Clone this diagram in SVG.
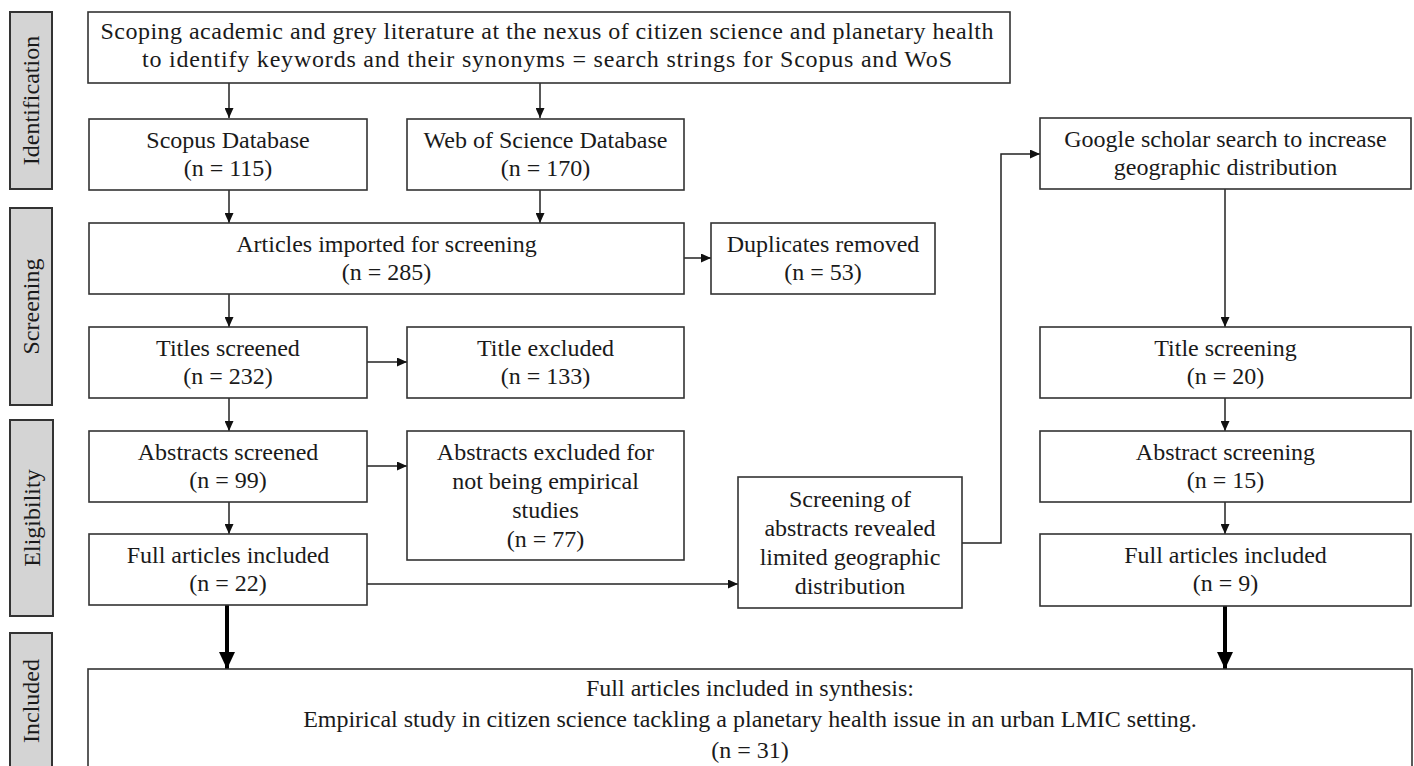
<svg xmlns="http://www.w3.org/2000/svg" width="1414" height="766" viewBox="0 0 1414 766">
<defs>
<style>
.box{fill:#fff;stroke:#333;stroke-width:1.6}
.side{fill:#d4d4d4;stroke:#333;stroke-width:2}
text{font-family:"Liberation Serif","Times New Roman",serif;font-size:24px;fill:#1a1a1a;text-anchor:middle}
.c{stroke:#222;stroke-width:1.5;fill:none}
.ct{stroke:#000;stroke-width:4;fill:none}
</style>
<marker id="ah" markerWidth="10" markerHeight="9" refX="10" refY="4.5" orient="auto" markerUnits="userSpaceOnUse"><path d="M0,0 L10,4.5 L0,9 z" fill="#111"/></marker>
<marker id="ahb" markerWidth="17" markerHeight="16" refX="17" refY="8" orient="auto" markerUnits="userSpaceOnUse"><path d="M0,0 L17,8 L0,16 z" fill="#000"/></marker>
</defs>
<rect width="1414" height="766" fill="#fff"/>

<g id="phases">
<g id="phase-identification"><rect class="side" x="10" y="12" width="42" height="177"/><text transform="translate(31,100.5) rotate(-90)" dominant-baseline="central">Identification</text></g>
<g id="phase-screening"><rect class="side" x="10" y="208" width="42" height="197"/><text transform="translate(31,306.5) rotate(-90)" dominant-baseline="central">Screening</text></g>
<g id="phase-eligibility"><rect class="side" x="10" y="420" width="43" height="196"/><text transform="translate(31.5,518) rotate(-90)" dominant-baseline="central">Eligibility</text></g>
<g id="phase-included"><rect class="side" x="10" y="633" width="42" height="140"/><text transform="translate(31,701) rotate(-90)" dominant-baseline="central">Included</text></g>
</g>

<g id="connectors">
<line class="c" x1="229" y1="83" x2="229" y2="118" marker-end="url(#ah)"/>
<line class="c" x1="540" y1="83" x2="540" y2="118" marker-end="url(#ah)"/>
<line class="c" x1="229" y1="190" x2="229" y2="223" marker-end="url(#ah)"/>
<line class="c" x1="540" y1="190" x2="540" y2="223" marker-end="url(#ah)"/>
<line class="c" x1="684" y1="258" x2="711" y2="258" marker-end="url(#ah)"/>
<line class="c" x1="229" y1="294" x2="229" y2="327" marker-end="url(#ah)"/>
<line class="c" x1="367" y1="362" x2="407" y2="362" marker-end="url(#ah)"/>
<line class="c" x1="229" y1="398" x2="229" y2="431" marker-end="url(#ah)"/>
<line class="c" x1="367" y1="466" x2="407" y2="466" marker-end="url(#ah)"/>
<line class="c" x1="229" y1="502" x2="229" y2="534" marker-end="url(#ah)"/>
<line class="c" x1="367" y1="584" x2="738" y2="584" marker-end="url(#ah)"/>
<polyline class="c" points="962,543 1001,543 1001,154 1040,154" marker-end="url(#ah)"/>
<line class="c" x1="1225" y1="189" x2="1225" y2="327" marker-end="url(#ah)"/>
<line class="c" x1="1225" y1="398" x2="1225" y2="431" marker-end="url(#ah)"/>
<line class="c" x1="1225" y1="502" x2="1225" y2="534" marker-end="url(#ah)"/>
<line class="ct" x1="227" y1="605" x2="227" y2="669" marker-end="url(#ahb)"/>
<line class="ct" x1="1225" y1="606" x2="1225" y2="669" marker-end="url(#ahb)"/>
</g>

<g id="n-scoping"><rect class="box" x="88" y="12" width="922" height="71"/>
<text x="547" y="39" textLength="893">Scoping academic and grey literature at the nexus of citizen science and planetary health</text>
<text x="547" y="67" textLength="810">to identify keywords and their synonyms = search strings for Scopus and WoS</text></g>

<g id="n-scopus"><rect class="box" x="89" y="119" width="278" height="71"/>
<text x="228" y="148">Scopus Database</text><text x="228" y="176">(n = 115)</text></g>

<g id="n-wos"><rect class="box" x="407" y="119" width="277" height="71"/>
<text x="545.5" y="148">Web of Science Database</text><text x="545.5" y="176">(n = 170)</text></g>

<g id="n-google"><rect class="box" x="1040" y="118" width="371" height="71"/>
<text x="1225.5" y="147">Google scholar search to increase</text><text x="1225.5" y="175">geographic distribution</text></g>

<g id="n-imported"><rect class="box" x="89" y="223" width="595" height="71"/>
<text x="386.5" y="252">Articles imported for screening</text><text x="386.5" y="280">(n = 285)</text></g>

<g id="n-duplicates"><rect class="box" x="711" y="223" width="224" height="71"/>
<text x="823" y="252">Duplicates removed</text><text x="823" y="280">(n = 53)</text></g>

<g id="n-titles"><rect class="box" x="89" y="327" width="278" height="71"/>
<text x="228" y="356">Titles screened</text><text x="228" y="384">(n = 232)</text></g>

<g id="n-title-excluded"><rect class="box" x="407" y="327" width="277" height="71"/>
<text x="545.5" y="356">Title excluded</text><text x="545.5" y="384">(n = 133)</text></g>

<g id="n-title-screening"><rect class="box" x="1040" y="327" width="371" height="71"/>
<text x="1225.5" y="356">Title screening</text><text x="1225.5" y="384">(n = 20)</text></g>

<g id="n-abstracts"><rect class="box" x="89" y="431" width="278" height="71"/>
<text x="228" y="460">Abstracts screened</text><text x="228" y="488">(n = 99)</text></g>

<g id="n-abstracts-excluded"><rect class="box" x="407" y="431" width="277" height="129"/>
<text x="545.5" y="460">Abstracts excluded for</text><text x="545.5" y="489">not being empirical</text><text x="545.5" y="518">studies</text><text x="545.5" y="547">(n = 77)</text></g>

<g id="n-abstract-screening"><rect class="box" x="1040" y="431" width="371" height="71"/>
<text x="1225.5" y="460">Abstract screening</text><text x="1225.5" y="488">(n = 15)</text></g>

<g id="n-limited"><rect class="box" x="738" y="477" width="224" height="131"/>
<text x="850" y="507">Screening of</text><text x="850" y="536">abstracts revealed</text><text x="850" y="565">limited geographic</text><text x="850" y="594">distribution</text></g>

<g id="n-full-left"><rect class="box" x="89" y="534" width="278" height="71"/>
<text x="228" y="563">Full articles included</text><text x="228" y="591">(n = 22)</text></g>

<g id="n-full-right"><rect class="box" x="1040" y="534" width="371" height="72"/>
<text x="1225.5" y="563">Full articles included</text><text x="1225.5" y="591">(n = 9)</text></g>

<g id="n-synthesis"><rect class="box" x="88" y="669" width="1324" height="110"/>
<text x="750" y="696">Full articles included in synthesis:</text>
<text x="750" y="727">Empirical study in citizen science tackling a planetary health issue in an urban LMIC setting.</text>
<text x="750" y="758">(n = 31)</text></g>
</svg>
